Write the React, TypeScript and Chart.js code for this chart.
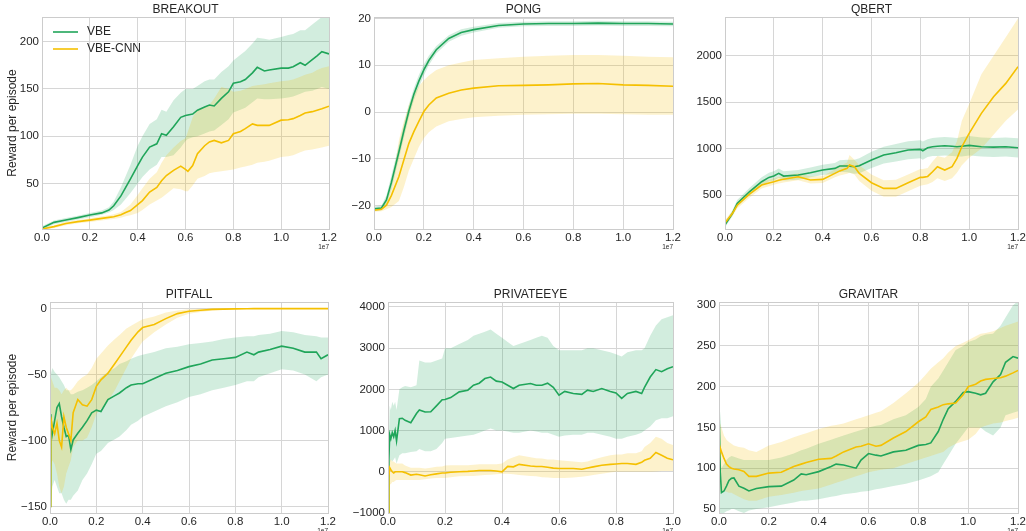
import React, { useEffect, useRef } from 'react';
import { Chart, registerables } from 'chart.js';

Chart.register(...registerables);

const FONT = '"Liberation Sans", Arial, sans-serif';
const GREEN = '#20a55a';
const YELLOW = '#f5c000';
const GREEN_FILL = 'rgba(32,165,90,0.2)';
const YELLOW_FILL = 'rgba(245,192,0,0.2)';
const GRID = '#d6d6d6';
const TEXT = '#262626';

const SERIES_NAMES = ['VBE', 'VBE-CNN'];
const Y_LABEL = 'Reward per episode';
const X_OFFSET_LABEL = '1e7';
const X_TICKS_12 = [0, 0.2, 0.4, 0.6, 0.8, 1.0, 1.2];
const X_TICKS_10 = [0, 0.2, 0.4, 0.6, 0.8, 1.0];

// ---------------- BREAKOUT ----------------
const BRK_X = [0, 0.05, 0.1, 0.15, 0.2, 0.25, 0.28, 0.3, 0.33, 0.35,
  0.37, 0.4, 0.42, 0.45, 0.48, 0.5, 0.52, 0.55, 0.58, 0.6,
  0.61, 0.63, 0.65, 0.68, 0.7, 0.72, 0.75, 0.78, 0.8, 0.83,
  0.85, 0.88, 0.9, 0.93, 0.95, 1.0, 1.03, 1.05, 1.08, 1.1,
  1.13, 1.15, 1.17, 1.2];
const BRK_VBE = [3, 9, 11.5, 14, 16.7, 19, 22, 26.5, 37, 46,
  55, 69, 78, 88.5, 92, 102.7, 101, 110, 120, 122,
  122.5, 123.5, 127.5, 131, 133, 132, 140, 147, 156, 157.5,
  160, 167, 172.8, 169, 170, 172, 172, 173.5, 177.7, 175,
  181, 185, 189.4, 187];
const BRK_VBE_LO = [1, 7, 9.5, 12, 14.5, 17, 19.5, 22, 28, 34,
  40, 50, 57, 65, 70, 78, 78, 80, 88, 95,
  97, 99, 100, 103, 105, 106, 112, 118, 125, 128,
  130, 136, 140, 139, 139, 140, 141, 142, 145, 147,
  148, 150, 152, 150];
const BRK_VBE_HI = [5, 11, 13.5, 16, 19, 21.5, 25, 31, 46, 58,
  70, 90, 100, 113, 118, 128, 126, 138, 146, 150,
  150, 150, 153, 158, 160, 160, 168, 174, 180, 186,
  190, 198, 204, 203, 202, 205, 207, 208, 212, 212,
  218, 222, 226, 226];
const BRK_CNN = [2, 4.5, 7.8, 9.8, 11.4, 13.2, 14.3, 15, 17, 19.5,
  21.5, 27.7, 32, 41, 46, 53, 58.5, 64, 68.4, 65,
  63, 69, 81.5, 90, 94, 95.6, 93, 95.6, 102.7, 105,
  108, 113, 111.5, 111.5, 111.5, 117, 117.5, 118.6, 122, 124.6,
  126, 127.5, 129, 131.7];
const BRK_CNN_LO = [1, 3, 6, 8, 9.5, 11, 12, 12.5, 14, 15.5,
  16.5, 19, 22, 28, 32, 35, 39, 45, 44, 42,
  42, 48, 55, 58, 61, 62, 63, 64, 65, 67,
  68, 70, 72, 73, 74, 78, 79, 80, 83, 85,
  86, 87, 88, 90];
const BRK_CNN_HI = [3, 6, 9.5, 11.5, 13.3, 15.5, 16.5, 17.5, 20, 24,
  28, 38, 45, 55, 62, 72, 80, 88, 95, 98,
  105, 120, 128, 131, 133, 140, 152, 150, 147, 148,
  150, 153, 154, 155, 156, 158, 159, 160, 163, 165,
  167, 170, 172, 174];
const BRK_Y_TICKS = [50, 100, 150, 200];

// ---------------- PONG ----------------
const PONG_X = [0, 0.03, 0.05, 0.07, 0.1, 0.12, 0.14, 0.16, 0.18, 0.2,
  0.22, 0.25, 0.3, 0.35, 0.4, 0.5, 0.6, 0.7, 0.8, 0.9,
  1.0, 1.1, 1.2];
const PONG_VBE = [-20.7, -20.5, -18.8, -15, -8.5, -4, 0.2, 3.8, 6.6, 9,
  11, 13.3, 15.7, 17, 17.6, 18.5, 18.8, 18.9, 18.9, 19,
  18.9, 18.9, 18.8];
const PONG_VBE_LO = [-21.2, -21, -19.8, -16.5, -10, -5.5, -1.2, 2.5, 5.3, 7.8,
  10, 12.5, 15, 16.3, 17, 18, 18.3, 18.4, 18.4, 18.5,
  18.4, 18.4, 18.3];
const PONG_VBE_HI = [-20.2, -20, -17.8, -13.5, -7, -2.5, 1.6, 5.1, 7.9, 10.2,
  12, 14.1, 16.4, 17.7, 18.2, 19, 19.3, 19.4, 19.4, 19.5,
  19.4, 19.4, 19.3];
const PONG_CNN = [-21, -20.8, -19.9, -17.8, -13.8, -10.2, -6.7, -4.2, -2, 0.1,
  1.5, 3, 4, 4.7, 5.1, 5.6, 5.7, 5.8, 6, 6.1,
  5.8, 5.7, 5.5];
const PONG_CNN_LO = [-21.3, -21.2, -20.8, -20.3, -19, -16, -12.5, -10, -7.5, -5.6,
  -4.3, -3.1, -2, -1.5, -1.1, -0.8, -0.6, -0.5, -0.4, -0.4,
  -0.5, -0.6, -0.6];
const PONG_CNN_HI = [-20.7, -20.4, -19, -16, -6, -2, 1.5, 3.8, 5.5, 6.8,
  7.8, 9, 10, 10.6, 11.1, 11.5, 11.8, 12, 12.2, 12.2,
  12, 11.8, 11.7];
const PONG_Y_TICKS = [-20, -10, 0, 10, 20];

// ---------------- QBERT ----------------
const QB_X = [0, 0.03, 0.05, 0.1, 0.15, 0.18, 0.2, 0.22, 0.24, 0.3,
  0.35, 0.4, 0.45, 0.47, 0.5, 0.51, 0.53, 0.55, 0.6, 0.65,
  0.7, 0.75, 0.8, 0.81, 0.83, 0.85, 0.87, 0.9, 0.93, 0.95,
  0.97, 1.0, 1.05, 1.1, 1.15, 1.2];
const QB_VBE = [180, 300, 410, 535, 643, 690, 704, 733, 704, 715,
  740, 769, 787, 812, 812, 810, 805, 815, 877, 930,
  955, 984, 991, 977, 1009, 1020, 1025, 1031, 1025, 1020,
  1025, 1034, 1020, 1016, 1020, 1009];
const QB_VBE_LO = [150, 270, 375, 495, 600, 645, 655, 685, 655, 665,
  690, 715, 730, 750, 745, 740, 730, 735, 790, 840,
  860, 885, 895, 880, 910, 920, 920, 925, 920, 915,
  915, 925, 915, 910, 915, 905];
const QB_VBE_HI = [210, 330, 445, 575, 690, 740, 755, 785, 755, 770,
  795, 825, 845, 875, 880, 880, 880, 895, 965, 1020,
  1050, 1080, 1090, 1075, 1100, 1115, 1120, 1125, 1120, 1115,
  1125, 1135, 1120, 1115, 1120, 1110];
const QB_CNN = [200, 300, 390, 510, 607, 630, 643, 660, 670, 697,
  661, 668, 733, 760, 787, 823, 805, 733, 632, 571,
  571, 632, 690, 690, 700, 751, 805, 769, 805, 894,
  1020, 1164, 1379, 1558, 1702, 1882];
const QB_CNN_LO = [170, 270, 355, 470, 570, 595, 610, 625, 635, 660,
  625, 630, 690, 710, 730, 740, 720, 650, 545, 480,
  480, 540, 600, 605, 615, 640, 680, 650, 680, 740,
  820, 900, 1000, 1150, 1300, 1420];
const QB_CNN_HI = [230, 330, 425, 550, 645, 665, 680, 695, 705, 735,
  700, 705, 775, 810, 850, 930, 880, 820, 720, 660,
  665, 720, 780, 780, 790, 860, 920, 900, 960, 1080,
  1300, 1480, 1800, 2000, 2200, 2400];
const QB_Y_TICKS = [500, 1000, 1500, 2000];

// ---------------- PITFALL ----------------
const PIT_X = [0, 0.003, 0.01, 0.02, 0.03, 0.04, 0.05, 0.06, 0.07, 0.08,
  0.09, 0.1, 0.12, 0.14, 0.16, 0.18, 0.2, 0.22, 0.25, 0.28,
  0.3, 0.33, 0.35, 0.38, 0.4, 0.45, 0.5, 0.55, 0.6, 0.65,
  0.7, 0.75, 0.8, 0.85, 0.88, 0.9, 0.95, 1.0, 1.05, 1.1,
  1.15, 1.17, 1.2];
const PIT_VBE = [-150, -80, -95, -85, -75, -72, -82, -90, -97, -96,
  -107, -99.6, -94.5, -90, -85, -79, -77, -78, -69, -66,
  -64, -60, -58, -57, -57, -53, -49, -47, -44, -42,
  -39, -38, -37, -33, -35, -33, -31, -28.5, -30, -33,
  -33, -38, -35];
const PIT_VBE_LO = [-150, -150, -135, -130, -135, -140, -140, -145, -148, -145,
  -145, -142, -138, -130, -125, -118, -110, -108, -102, -99,
  -97, -92, -88, -85, -82, -78, -74, -71, -67, -65,
  -62, -60, -58, -55, -55, -52, -49, -46, -47, -50,
  -55, -52, -50];
const PIT_VBE_HI = [-60, -50, -45, -48, -50, -52, -55, -58, -62, -62,
  -65, -65, -63, -62, -60, -58, -55, -52, -48, -45,
  -42, -40, -38, -36, -35, -33, -30, -29, -27, -26,
  -25, -23, -22, -21, -21, -20, -19, -17, -18, -20,
  -21, -22, -22];
const PIT_CNN = [-150, -82, -90, -95, -87, -100, -105, -82, -90, -95,
  -100, -79, -69, -73, -74, -69, -59, -54, -49, -41.6,
  -36.6, -29, -24, -17.6, -14.4, -12, -7.6, -3.8, -2, -1.3,
  -0.6, -0.4, -0.2, -0.1, 0, 0, 0, 0, 0, 0,
  0, 0, 0];
const PIT_CNN_LO = [-150, -120, -115, -118, -125, -135, -140, -135, -125, -120,
  -115, -105, -100, -100, -98, -90, -80, -76, -70, -62,
  -55, -45, -38, -30, -25, -18, -12, -7, -4, -2.5,
  -1.5, -0.8, -0.4, -0.2, -0.1, 0, 0, 0, 0, 0,
  0, 0, 0];
const PIT_CNN_HI = [-50, -50, -55, -60, -60, -62, -65, -62, -60, -62,
  -62, -60, -55, -52, -50, -45, -38, -34, -28, -23,
  -20, -15, -13, -10, -8, -6, -3, -1.5, -0.5, -0.2,
  0, 0, 0, 0, 0, 0, 0, 0, 0, 0,
  0, 0, 0];
const PIT_Y_TICKS = [-150, -100, -50, 0];

// ---------------- PRIVATEEYE ----------------
const PE_X = [0, 0.003, 0.006, 0.01, 0.015, 0.02, 0.025, 0.03, 0.04, 0.05,
  0.06, 0.08, 0.1, 0.11, 0.13, 0.15, 0.17, 0.19, 0.2, 0.22,
  0.25, 0.28, 0.3, 0.32, 0.34, 0.36, 0.38, 0.4, 0.42, 0.44,
  0.46, 0.5, 0.52, 0.54, 0.56, 0.58, 0.6, 0.62, 0.65, 0.68,
  0.7, 0.72, 0.75, 0.78, 0.8, 0.82, 0.84, 0.87, 0.89, 0.9,
  0.92, 0.94, 0.96, 0.98, 1.0];
const PE_VBE = [-1000, 300, 900, 800, 950, 850, 1000, 750, 1290, 1300,
  1250, 1190, 1414, 1500, 1450, 1455, 1600, 1750, 1753, 1800,
  1940, 1980, 2100, 2150, 2263, 2300, 2200, 2180, 2100, 2020,
  2100, 2141, 2100, 2100, 2150, 2050, 1858, 1950, 1900, 1880,
  1980, 1950, 2020, 1950, 1915, 1780, 1900, 1950, 1900, 2050,
  2300, 2480, 2430, 2500, 2550];
const PE_VBE_LO = [-1000, 0, 200, 300, 250, 300, 350, 200, 400, 450,
  450, 480, 500, 550, 500, 500, 550, 700, 800, 820,
  850, 880, 900, 950, 1000, 1050, 1000, 1000, 980, 950,
  950, 1000, 980, 950, 950, 900, 850, 880, 900, 900,
  950, 950, 900, 850, 800, 800, 850, 900, 950, 1000,
  1100, 1250, 1300, 1300, 1350];
const PE_VBE_HI = [-1000, 800, 1600, 1500, 1700, 1600, 1700, 1500, 2000, 2050,
  2080, 2050, 2100, 2700, 2650, 2650, 2700, 2750, 3000, 3000,
  3100, 3200, 3300, 3350, 3400, 3450, 3350, 3250, 3150, 3050,
  3100, 3200, 3250, 3300, 3250, 3050, 2950, 2950, 2950, 2950,
  3000, 3000, 2950, 2900, 2850, 2800, 2900, 2950, 2950, 3000,
  3300, 3550, 3700, 3750, 3800];
const PE_CNN = [-1000, -100, 100, 50, 0, -30, 0, 0, 0, 0,
  -20, -80, -60, -70, -100, -70, -50, -30, -30, -10,
  0, 10, 20, 30, 30, 30, 20, 0, 130, 120,
  180, 140, 130, 130, 110, 90, 80, 80, 80, 60,
  90, 120, 160, 180, 190, 200, 200, 180, 230, 280,
  330, 470, 400, 330, 290];
const PE_CNN_LO = [-1000, -400, -300, -300, -250, -250, -220, -200, -200, -200,
  -200, -200, -200, -200, -180, -160, -150, -150, -150, -130,
  -110, -100, -100, -90, -80, -70, -60, -50, -50, -60,
  -80, -100, -110, -130, -140, -150, -150, -150, -140, -120,
  -100, -80, -50, -20, 0, 0, 0, 0, 0, 0,
  0, 10, 20, 20, 20];
const PE_CNN_HI = [-1000, 200, 300, 300, 250, 250, 220, 200, 200, 200,
  150, 100, 100, 100, 80, 100, 120, 130, 150, 160,
  160, 160, 170, 180, 180, 180, 180, 200, 300, 350,
  400, 350, 330, 320, 300, 300, 280, 270, 250, 230,
  250, 300, 350, 400, 420, 420, 450, 450, 500, 600,
  700, 850, 800, 700, 650];
const PE_Y_TICKS = [-1000, 0, 1000, 2000, 3000, 4000];

// ---------------- GRAVITAR ----------------
const GR_X = [0, 0.005, 0.01, 0.02, 0.03, 0.04, 0.05, 0.06, 0.08, 0.1,
  0.12, 0.15, 0.2, 0.25, 0.3, 0.33, 0.35, 0.4, 0.45, 0.47,
  0.5, 0.55, 0.57, 0.6, 0.63, 0.65, 0.7, 0.75, 0.8, 0.83,
  0.85, 0.88, 0.9, 0.92, 0.95, 0.98, 1.0, 1.03, 1.05, 1.07,
  1.1, 1.13, 1.15, 1.18, 1.2];
const GR_VBE = [185, 95, 70, 72, 78, 85, 87.6, 88, 78, 75.3,
  72, 75, 77.4, 78, 85.5, 93, 92, 95.8, 102, 105,
  104, 100, 110, 118, 116, 115, 120, 122, 128, 129,
  131, 145, 160, 173, 182, 193, 194, 192, 190, 192,
  206, 215, 230, 237, 235];
const GR_VBE_LO = [50, 45, 45, 45, 47, 48, 50, 50, 47, 45,
  48, 50, 52, 55, 58, 60, 60, 62, 65, 66,
  68, 70, 71, 72, 74, 75, 78, 81, 85, 88,
  90, 95, 105, 115, 130, 142, 150, 150, 150, 145,
  140, 150, 165, 168, 170];
const GR_VBE_HI = [190, 110, 100, 105, 110, 113, 115, 114, 112, 110,
  110, 110, 110, 113, 118, 122, 124, 130, 135, 137,
  140, 145, 147, 150, 152, 153, 160, 165, 175, 185,
  200, 210, 220, 230, 245, 250, 255, 258, 262, 264,
  265, 275, 285, 300, 305];
const GR_CNN = [110, 125, 120, 112, 105, 102, 100, 99, 98, 96,
  90, 90, 94, 95, 102, 105, 107, 111, 112, 115,
  120, 126, 127, 130, 127, 128, 137, 145, 157, 163,
  172, 175, 178, 179, 180, 190, 200, 203, 207, 209,
  210, 211, 213, 217, 220];
const GR_CNN_LO = [60, 70, 72, 72, 71, 70, 70, 68, 65, 62,
  60, 60, 65, 67, 70, 72, 73, 75, 80, 82,
  85, 90, 92, 95, 97, 98, 100, 105, 110, 113,
  115, 118, 120, 125, 130, 133, 135, 142, 150, 152,
  155, 156, 158, 160, 162];
const GR_CNN_HI = [150, 155, 150, 140, 135, 132, 130, 128, 126, 125,
  122, 120, 128, 132, 138, 141, 143, 148, 152, 153,
  155, 160, 162, 165, 168, 170, 180, 192, 205, 215,
  222, 230, 235, 242, 250, 254, 257, 262, 265, 266,
  268, 272, 275, 278, 280];
const GR_Y_TICKS = [50, 100, 150, 200, 250, 300];

type Box = { l: number; t: number; r: number; b: number };
type PanelSpec = {
  title: string;
  x: number[];
  vbe: number[]; vbeLo: number[]; vbeHi: number[];
  cnn: number[]; cnnLo: number[]; cnnHi: number[];
  xMax: number; xTicks: number[];
  yMin: number; yMax: number; yTicks: number[];
  box: Box; yLabel: boolean; legend: boolean;
};

const PANELS: PanelSpec[] = [
  { title: 'BREAKOUT', x: BRK_X, vbe: BRK_VBE, vbeLo: BRK_VBE_LO, vbeHi: BRK_VBE_HI, cnn: BRK_CNN, cnnLo: BRK_CNN_LO, cnnHi: BRK_CNN_HI,
    xMax: 1.2, xTicks: X_TICKS_12, yMin: 2, yMax: 226, yTicks: BRK_Y_TICKS, box: { l: 42, t: 17, r: 329, b: 229 }, yLabel: true, legend: true },
  { title: 'PONG', x: PONG_X, vbe: PONG_VBE, vbeLo: PONG_VBE_LO, vbeHi: PONG_VBE_HI, cnn: PONG_CNN, cnnLo: PONG_CNN_LO, cnnHi: PONG_CNN_HI,
    xMax: 1.2, xTicks: X_TICKS_12, yMin: -25, yMax: 20.3, yTicks: PONG_Y_TICKS, box: { l: 374, t: 17, r: 673, b: 229 }, yLabel: false, legend: false },
  { title: 'QBERT', x: QB_X, vbe: QB_VBE, vbeLo: QB_VBE_LO, vbeHi: QB_VBE_HI, cnn: QB_CNN, cnnLo: QB_CNN_LO, cnnHi: QB_CNN_HI,
    xMax: 1.2, xTicks: X_TICKS_12, yMin: 134, yMax: 2417, yTicks: QB_Y_TICKS, box: { l: 725, t: 17, r: 1018, b: 229 }, yLabel: false, legend: false },
  { title: 'PITFALL', x: PIT_X, vbe: PIT_VBE, vbeLo: PIT_VBE_LO, vbeHi: PIT_VBE_HI, cnn: PIT_CNN, cnnLo: PIT_CNN_LO, cnnHi: PIT_CNN_HI,
    xMax: 1.2, xTicks: X_TICKS_12, yMin: -155, yMax: 5, yTicks: PIT_Y_TICKS, box: { l: 50, t: 302, r: 328, b: 513 }, yLabel: true, legend: false },
  { title: 'PRIVATEEYE', x: PE_X, vbe: PE_VBE, vbeLo: PE_VBE_LO, vbeHi: PE_VBE_HI, cnn: PE_CNN, cnnLo: PE_CNN_LO, cnnHi: PE_CNN_HI,
    xMax: 1.0, xTicks: X_TICKS_10, yMin: -1000, yMax: 4120, yTicks: PE_Y_TICKS, box: { l: 388, t: 302, r: 673, b: 513 }, yLabel: false, legend: false },
  { title: 'GRAVITAR', x: GR_X, vbe: GR_VBE, vbeLo: GR_VBE_LO, vbeHi: GR_VBE_HI, cnn: GR_CNN, cnnLo: GR_CNN_LO, cnnHi: GR_CNN_HI,
    xMax: 1.2, xTicks: X_TICKS_12, yMin: 45, yMax: 304, yTicks: GR_Y_TICKS, box: { l: 719, t: 302, r: 1018, b: 513 }, yLabel: false, legend: false },
];

const YW = 60, TP = 24, RP = 12, XH = 26;

const fmtY = (v: number) => (v < 0 ? '\u2212' + String(Math.abs(v)) : String(v));
const align = (p: number) => Math.round(p - 0.5) + 0.5;

function PanelChart({ p }: { p: PanelSpec }) {
  const ref = useRef<HTMLCanvasElement | null>(null);
  const cl = p.box.l - YW;
  const ct = p.box.t - TP;
  const cw = p.box.r - p.box.l + YW + RP;
  const ch = p.box.b - p.box.t + TP + XH;

  useEffect(() => {
    if (!ref.current) return;
    const pts = (ys: number[]) => p.x.map((x, i) => ({ x, y: ys[i] }));
    const line = (label: string, ys: number[], color: string) => ({
      label, data: pts(ys), borderColor: color, borderWidth: 1.6, pointRadius: 0, fill: false, tension: 0,
    });
    const band = (ys: number[], color: string, fill: any) => ({
      label: '', data: pts(ys), borderColor: 'rgba(0,0,0,0)', borderWidth: 0, pointRadius: 0,
      backgroundColor: color, fill, tension: 0,
    });
    const datasets: any[] = [
      line(SERIES_NAMES[1], p.cnn, YELLOW),
      line(SERIES_NAMES[0], p.vbe, GREEN),
      band(p.cnnHi, YELLOW_FILL, '+1'),
      band(p.cnnLo, YELLOW_FILL, false),
      band(p.vbeHi, GREEN_FILL, '+1'),
      band(p.vbeLo, GREEN_FILL, false),
    ];

    const decor = {
      id: 'decor',
      afterDatasetsDraw(chart: any) {
        const { ctx, chartArea: a } = chart;
        ctx.save();
        ctx.strokeStyle = '#cccccc';
        ctx.lineWidth = 1;
        const l = align(a.left), r = align(a.right), t = align(a.top), b = align(a.bottom);
        ctx.strokeRect(l, t, r - l, b - t);
        ctx.restore();
      },
      afterDraw(chart: any) {
        const { ctx, chartArea: a } = chart;
        ctx.save();
        ctx.fillStyle = TEXT;
        ctx.textBaseline = 'middle';
        ctx.textAlign = 'center';
        ctx.font = `12px ${FONT}`;
        ctx.fillText(p.title, (a.left + a.right) / 2, a.top - 7.5);
        ctx.textAlign = 'right';
        ctx.font = `6.5px ${FONT}`;
        ctx.fillText(X_OFFSET_LABEL, a.right, a.bottom + 18);
        if (p.yLabel) {
          ctx.save();
          ctx.translate(13 - cl, (a.top + a.bottom) / 2);
          ctx.rotate(-Math.PI / 2);
          ctx.textAlign = 'center';
          ctx.font = `12px ${FONT}`;
          ctx.fillText(Y_LABEL, 0, 0);
          ctx.restore();
        }
        if (p.legend) {
          const rows = [{ name: SERIES_NAMES[0], color: GREEN, y: 32 }, { name: SERIES_NAMES[1], color: YELLOW, y: 49 }];
          rows.forEach((row) => {
            ctx.strokeStyle = row.color;
            ctx.lineWidth = 1.6;
            ctx.beginPath();
            ctx.moveTo(53 - cl, row.y - ct);
            ctx.lineTo(78 - cl, row.y - ct);
            ctx.stroke();
            ctx.textAlign = 'left';
            ctx.font = `12px ${FONT}`;
            ctx.fillStyle = TEXT;
            ctx.fillText(row.name, 87 - cl, row.y - ct);
          });
        }
        ctx.restore();
      },
    };

    const tickFont = { family: FONT, size: 11.5 };
    const chart = new Chart(ref.current, {
      type: 'line',
      data: { datasets },
      options: {
        animation: false,
        responsive: false,
        maintainAspectRatio: false,
        layout: { padding: { top: TP, right: RP, left: 0, bottom: 0 } },
        scales: {
          x: {
            type: 'linear', min: 0, max: p.xMax,
            afterBuildTicks: (s: any) => { s.ticks = p.xTicks.map((v) => ({ value: v })); },
            afterFit: (s: any) => { s.height = XH; },
            grid: { color: GRID, lineWidth: 1, drawTicks: false },
            border: { display: false },
            ticks: { padding: 2, color: TEXT, font: tickFont, maxRotation: 0, autoSkip: false, callback: (v: any) => Number(v).toFixed(1) },
          },
          y: {
            type: 'linear', min: p.yMin, max: p.yMax,
            afterBuildTicks: (s: any) => { s.ticks = p.yTicks.map((v) => ({ value: v })); },
            afterFit: (s: any) => { s.width = YW; },
            grid: { color: GRID, lineWidth: 1, drawTicks: false },
            border: { display: false },
            ticks: { padding: 3, color: TEXT, font: tickFont, autoSkip: false, callback: (v: any) => fmtY(Number(v)) },
          },
        },
        plugins: {
          legend: { display: false },
          tooltip: { enabled: false },
          title: { display: false },
          filler: { drawTime: 'beforeDatasetsDraw' },
        } as any,
      },
      plugins: [decor],
    } as any);
    return () => chart.destroy();
  }, []);

  return (
    <canvas
      ref={ref}
      width={cw}
      height={ch}
      style={{ position: 'absolute', left: cl, top: ct, width: cw, height: ch }}
    />
  );
}

export default function App() {
  return (
    <div style={{ position: 'fixed', left: 0, top: 0, width: 1026, height: 531, background: '#ffffff', overflow: 'hidden' }}>
      {PANELS.map((p) => (
        <PanelChart key={p.title} p={p} />
      ))}
    </div>
  );
}
